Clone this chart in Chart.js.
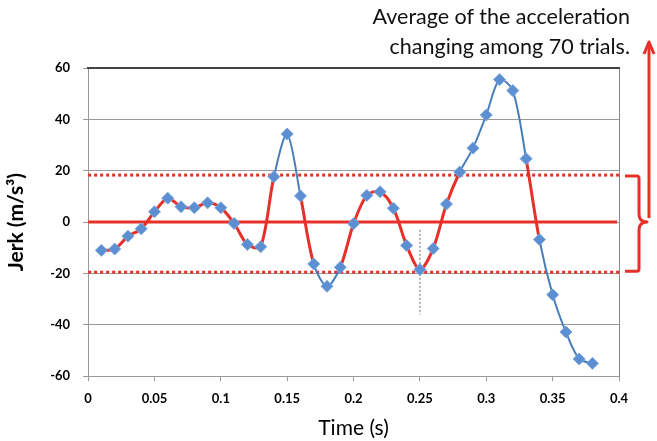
<!DOCTYPE html>
<html>
<head>
<meta charset="utf-8">
<script src="https://cdn.jsdelivr.net/npm/chart.js@4"></script>
<style>
  body { margin: 0; background: #fff; }
  #wrap { position: relative; width: 657px; height: 441px; }
  #note { position: absolute; right: 27px; top: 1px; font: 21.5px Lato, "Open Sans", sans-serif;
          color: #111; text-align: right; line-height: 30px; }
</style>
</head>
<body>
<div id="wrap">
  <canvas id="GraficoJerk" width="657" height="441"></canvas>
  <div id="note">Average of the acceleration<br>changing among 70 trials.</div>
</div>
<script>
// time (s) and averaged jerk values
var tempos = [0.01, 0.02, 0.03, 0.04, 0.05, 0.06, 0.07, 0.08, 0.09, 0.10,
              0.11, 0.12, 0.13, 0.14, 0.15, 0.16, 0.17, 0.18, 0.19, 0.20,
              0.21, 0.22, 0.23, 0.24, 0.25, 0.26, 0.27, 0.28, 0.29, 0.30,
              0.31, 0.32, 0.33, 0.34, 0.35, 0.36, 0.37, 0.38];
var jerk = [-11, -10.5, -5.5, -2.6, 4, 9.3, 6, 5.6, 7.5, 5.6,
            -0.5, -8.7, -9.6, 17.7, 34.3, 10.2, -16.3, -25, -17.6, -0.6,
            10.4, 11.8, 5.4, -9.1, -18.5, -10.3, 7, 19.5, 28.8, 41.7,
            55.5, 51.2, 24.7, -6.8, -28.3, -42.8, -53.3, -55];
var limitesFaixa = [18.3, -19.5];     // dotted band
var marcaVertical = [0.25, -3, -36];  // x, y from, y to
var ticksX = [0, 0.05, 0.1, 0.15, 0.2, 0.25, 0.3, 0.35, 0.4];
var ticksY = [-60, -40, -20, 0, 20, 40, 60];

var vermelho = '#e8302a';
var azul = '#4a7ebb';
var fonte = 'Lato, "Open Sans", sans-serif';

var pontos = tempos.map(function (t, i) { return { x: t, y: jerk[i] }; });

function dentro(ctx) {
    return Math.abs(ctx.p0.parsed.y) < 25 && Math.abs(ctx.p1.parsed.y) < 25;
}

var extras = {
    id: 'extras',
    beforeDatasetsDraw: function (chart) {
        var c = chart.ctx, a = chart.chartArea;
        var sx = chart.scales.x, sy = chart.scales.y;
        c.save();
        c.strokeStyle = vermelho;
        c.lineWidth = 3;
        var y0 = sy.getPixelForValue(0);
        c.beginPath(); c.moveTo(a.left, y0); c.lineTo(a.right - 2, y0); c.stroke();
        c.setLineDash([3, 3]);
        limitesFaixa.forEach(function (v) {
            var y = sy.getPixelForValue(v);
            c.beginPath(); c.moveTo(a.left, y); c.lineTo(a.right, y); c.stroke();
        });
        c.setLineDash([2, 2]);
        c.lineWidth = 1;
        c.strokeStyle = '#666';
        var xv = sx.getPixelForValue(marcaVertical[0]);
        c.beginPath();
        c.moveTo(xv, sy.getPixelForValue(marcaVertical[1]));
        c.lineTo(xv, sy.getPixelForValue(marcaVertical[2]));
        c.stroke();
        c.restore();
    },
    afterDraw: function (chart) {
        var c = chart.ctx, a = chart.chartArea, sy = chart.scales.y;
        var yt = sy.getPixelForValue(limitesFaixa[0]);
        var yb = sy.getPixelForValue(limitesFaixa[1]);
        var ym = sy.getPixelForValue(0);
        var xb = a.right + 20;
        c.save();
        c.strokeStyle = vermelho;
        c.lineWidth = 3;
        c.lineJoin = 'round';
        // brace
        c.beginPath();
        c.moveTo(a.right + 6, yt + 1);
        c.lineTo(xb - 2, yt + 1);
        c.quadraticCurveTo(xb, yt + 1, xb, yt + 4);
        c.lineTo(xb, ym - 8);
        c.quadraticCurveTo(xb, ym, xb + 8, ym);
        c.quadraticCurveTo(xb, ym, xb, ym + 8);
        c.lineTo(xb, yb - 4);
        c.quadraticCurveTo(xb, yb - 1, xb - 2, yb - 1);
        c.lineTo(a.right + 6, yb - 1);
        c.stroke();
        // arrow
        var xa = xb + 10;
        c.beginPath();
        c.moveTo(xa, ym - 4);
        c.lineTo(xa, 44);
        c.stroke();
        c.beginPath();
        c.moveTo(xa - 5, 54);
        c.lineTo(xa, 42);
        c.lineTo(xa + 5, 54);
        c.stroke();
        c.restore();
    }
};

new Chart(document.getElementById('GraficoJerk'), {
    type: 'line',
    data: {
        datasets: [{
            label: 'Jerk',
            data: pontos,
            borderColor: azul,
            borderWidth: 2,
            tension: 0.3,
            pointStyle: 'rectRot',
            pointRadius: 6,
            pointBackgroundColor: '#5b8fd2',
            pointBorderColor: '#7aa6dc',
            pointBorderWidth: 1,
            segment: {
                borderColor: function (ctx) { return dentro(ctx) ? vermelho : azul; },
                borderWidth: function (ctx) { return dentro(ctx) ? 3 : 2; }
            }
        }]
    },
    options: {
        responsive: false,
        animation: false,
        layout: { padding: { left: 0, right: 30, top: 60, bottom: 0 } },
        plugins: { legend: { display: false }, tooltip: { enabled: false } },
        scales: {
            x: {
                type: 'linear',
                min: 0, max: 0.4,
                afterBuildTicks: function (s) { s.ticks = ticksX.map(function (v) { return { value: v }; }); },
                ticks: {
                    color: '#000',
                    font: { family: fonte, size: 13, weight: 'bold' },
                    padding: 10,
                    maxRotation: 0,
                    callback: function (v) { return String(Number(v.toFixed(2))); }
                },
                grid: { display: true, drawOnChartArea: false, drawTicks: true, tickLength: 5, color: '#999' },
                border: { color: '#999', width: 1 },
                title: { display: true, text: 'Time (s)', color: '#000', font: { family: fonte, size: 21 }, padding: { top: -1, bottom: 0 } }
            },
            y: {
                min: -60, max: 60,
                afterBuildTicks: function (s) { s.ticks = ticksY.map(function (v) { return { value: v }; }); },
                ticks: {
                    color: '#000',
                    font: { family: fonte, size: 13, weight: 'bold' },
                    padding: 13
                },
                grid: { color: '#999', tickLength: 5, lineWidth: 1 },
                border: { color: '#999', width: 1 },
                title: { display: true, text: 'Jerk (m/s\u00b3)', color: '#000', font: { family: fonte, size: 21, weight: 'bold' }, padding: { bottom: 8 } }
            },
            y2: {
                position: 'right',
                min: -60, max: 60,
                ticks: { display: false },
                grid: { display: false },
                border: { color: '#888', width: 1 }
            },
            x2: {
                type: 'linear',
                position: 'top',
                min: 0, max: 0.4,
                ticks: { display: false },
                grid: { display: false },
                border: { color: '#444', width: 2 }
            }
        }
    },
    plugins: [extras]
});
</script>
</body>
</html>
